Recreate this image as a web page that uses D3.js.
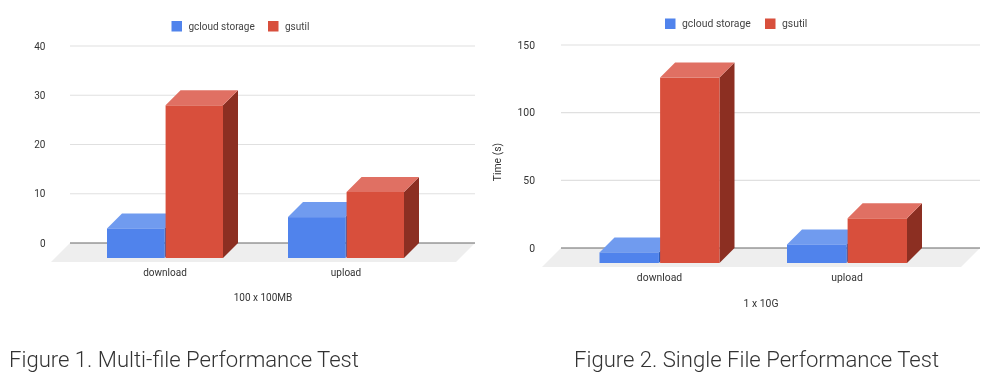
<!DOCTYPE html>
<html>
<head>
<meta charset="utf-8">
<script src="https://cdnjs.cloudflare.com/ajax/libs/d3/7.8.5/d3.min.js"></script>
<style>
  html, body { margin: 0; padding: 0; background: #fff; }
  svg { display: block; font-family: Roboto, sans-serif; filter: blur(0.35px); }
</style>
</head>
<body>
<div id="chart"></div>
<script>
const categories = ['download', 'upload'];
const seriesNames = ['gcloud storage', 'gsutil'];

// Figure 1
const multiFileGcloud = [6, 8.3];
const multiFileGsutil = [31, 13.4];
const multiFileTicks = [0, 10, 20, 30, 40];

// Figure 2
const singleFileGcloud = [7.8, 13.7];
const singleFileGsutil = [137, 33];
const singleFileTicks = [0, 50, 100, 150];

const colours = {
    'gcloud storage': { front: '#5083ec', top: '#709bef', side: '#2f5cb5' },
    'gsutil': { front: '#d84f3c', top: '#e07063', side: '#8c2f22' }
};

const svg = d3.select('#chart').append('svg')
    .attr('width', 1000)
    .attr('height', 382);

// draws one 3d column chart, layout holds the pixel positions
function drawChart(g, values, ticks, layout) {
    const depth = 15;
    const y = d3.scaleLinear()
        .domain([0, d3.max(ticks)])
        .range([layout.zeroY, layout.topY]);
    const x = d3.scaleBand()
        .domain(categories)
        .range(layout.bandRange);
    const xSeries = d3.scaleBand()
        .domain(seriesNames)
        .range([-layout.barStep, layout.barStep])
        .paddingInner(0.02);

    // floor
    g.append('path')
        .attr('d', `M${layout.gridX[0]},${layout.zeroY}L${layout.gridX[1]},${layout.zeroY}` +
            `L${layout.gridX[1] - 19},${layout.zeroY + 19}L${layout.gridX[0] - 19},${layout.zeroY + 19}Z`)
        .attr('fill', '#eeeeee');

    // gridlines and tick labels
    g.selectAll('line.grid')
        .data(ticks)
        .join('line')
        .classed('grid', true)
        .attr('x1', layout.gridX[0])
        .attr('x2', layout.gridX[1])
        .attr('y1', d => y(d))
        .attr('y2', d => y(d))
        .attr('stroke', d => d === 0 ? '#666666' : '#e0e0e0')
        .attr('stroke-width', d => d === 0 ? 1 : 1.2);

    g.selectAll('text.tick')
        .data(ticks)
        .join('text')
        .classed('tick', true)
        .attr('x', layout.tickX)
        .attr('y', d => y(d))
        .attr('dy', '0.35em')
        .attr('text-anchor', 'end')
        .attr('font-size', layout.fontSize)
        .attr('fill', '#333')
        .text(d => d);

    // columns, front face sits 15px in front of the back wall
    const bars = categories.flatMap((c, i) => seriesNames.map((s, j) => ({
        category: c, series: s, value: values[j][i]
    })));
    const bar = g.selectAll('g.bar')
        .data(bars)
        .join('g')
        .classed('bar', true);

    bar.each(function (d) {
        const x0 = x(d.category) + x.bandwidth() / 2 + xSeries(d.series);
        const x1 = x0 + xSeries.bandwidth();
        const yTop = y(d.value) + depth;
        const yBase = y(0) + depth;
        const c = colours[d.series];
        const el = d3.select(this);
        el.append('path')
            .attr('d', `M${x1},${yTop}L${x1 + depth},${yTop - depth}L${x1 + depth},${yBase - depth}L${x1},${yBase}Z`)
            .attr('fill', c.side);
        el.append('path')
            .attr('d', `M${x0},${yTop}L${x0 + depth},${yTop - depth}L${x1 + depth},${yTop - depth}L${x1},${yTop}Z`)
            .attr('fill', c.top);
        el.append('rect')
            .attr('x', x0)
            .attr('y', yTop)
            .attr('width', x1 - x0)
            .attr('height', yBase - yTop)
            .attr('fill', c.front);
    });

    // category labels
    g.selectAll('text.category')
        .data(categories)
        .join('text')
        .classed('category', true)
        .attr('x', d => x(d) + x.bandwidth() / 2)
        .attr('y', layout.categoryY)
        .attr('dy', '0.35em')
        .attr('text-anchor', 'middle')
        .attr('font-size', layout.fontSize)
        .attr('fill', '#333')
        .text(d => d);

    g.append('text')
        .attr('x', layout.titleX)
        .attr('y', layout.titleY)
        .attr('dy', '0.35em')
        .attr('text-anchor', 'middle')
        .attr('font-size', layout.fontSize)
        .attr('fill', '#333')
        .text(layout.xTitle);

    // legend
    const legend = g.selectAll('g.legend')
        .data(seriesNames)
        .join('g')
        .classed('legend', true)
        .attr('transform', (d, i) => `translate(${layout.legendX[i]},${layout.legendY})`);
    legend.append('rect')
        .attr('width', 10.5)
        .attr('height', 10.5)
        .attr('fill', d => colours[d].front);
    legend.append('text')
        .attr('x', 17)
        .attr('y', 5.25)
        .attr('dy', '0.35em')
        .attr('font-size', layout.fontSize)
        .attr('fill', '#444')
        .text(d => d);

    // caption
    g.append('text')
        .attr('x', layout.captionX)
        .attr('y', 367)
        .attr('font-size', 22.1)
        .attr('font-weight', 300)
        .attr('fill', '#333')
        .text(layout.caption);
}

drawChart(svg.append('g'), [multiFileGcloud, multiFileGsutil], multiFileTicks, {
    zeroY: 243, topY: 46, gridX: [70, 475], bandRange: [74.5, 436.5], barStep: 58,
    tickX: 45.5, categoryY: 272, titleX: 263, titleY: 297, xTitle: '100 x 100MB',
    legendX: [171.5, 268], legendY: 21, fontSize: 10,
    captionX: 9, caption: 'Figure 1. Multi-file Performance Test'
});

drawChart(svg.append('g'), [singleFileGcloud, singleFileGsutil], singleFileTicks, {
    zeroY: 248, topY: 45, gridX: [561, 980], bandRange: [565.75, 940.75], barStep: 60,
    tickX: 535, categoryY: 277.5, titleX: 761, titleY: 303, xTitle: '1 x 10G',
    legendX: [665, 765], legendY: 18.5, fontSize: 10.4,
    captionX: 574, caption: 'Figure 2. Single File Performance Test'
});

// y axis title, only on the second chart
svg.append('text')
    .attr('transform', 'translate(497,162) rotate(-90)')
    .attr('dy', '0.35em')
    .attr('text-anchor', 'middle')
    .attr('font-size', 10.4)
    .attr('fill', '#333')
    .text('Time (s)');
</script>
</body>
</html>
